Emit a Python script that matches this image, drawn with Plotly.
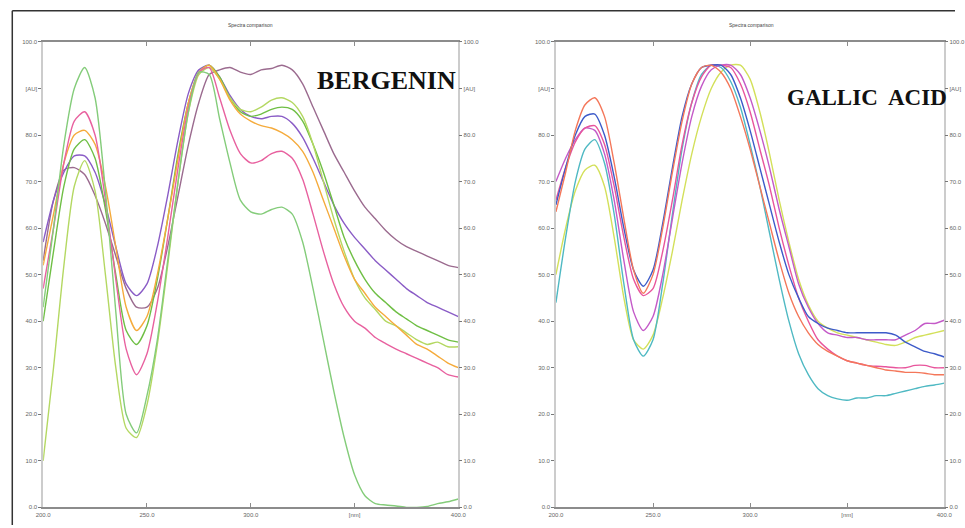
import plotly.graph_objects as go

# ---------------- data ----------------
WAVELENGTH = list(range(200, 401, 5))

X_TICKS = [200, 250, 300, 350, 400]
X_TICK_TEXT = ["200.0", "250.0", "300.0", "[nm]", "400.0"]
Y_TICKS = [0, 10, 20, 30, 40, 50, 60, 70, 80, 90, 100]
Y_TICK_TEXT = ["0.0", "10.0", "20.0", "30.0", "40.0", "50.0", "60.0", "70.0", "80.0", "[AU]", "100.0"]

# Bergenin panel
BERG_GREEN = [43, 60, 78, 90, 94.5, 88, 68, 42, 20, 16, 24, 36, 53, 70, 85, 93.5, 93, 83.5, 74, 66, 63.5,
              63, 64, 64.5, 63, 57, 47, 36, 25, 15, 7, 2.5, 0.8, 0.5, 0.3, 0, 0, 0.2, 0.8, 1.2, 1.8]
BERG_PINK = [47, 60, 74, 83, 85, 80, 66, 49, 34, 28.5, 33, 44, 58, 73, 86, 93.5, 94.5, 88, 81, 76, 74,
             74.5, 76, 76.5, 75, 70.5, 63, 55, 48, 43, 40, 38.5, 36.5, 35.2, 34, 33, 32, 31, 30, 28.5, 28]
BERG_ORANGE = [52, 63, 74, 80, 81, 78, 69, 56, 43, 38, 41, 50, 62, 75, 87, 93.5, 95, 92, 87.5, 84.5, 83,
               82, 81.5, 80.5, 79, 76.5, 72, 66, 60, 54, 49, 46, 43, 41, 39, 37, 35, 34, 32.5, 31, 30]
BERG_LIME = [40, 55, 69, 77, 79, 75, 64, 50, 38, 35, 39, 49, 62, 76, 87, 93.5, 95, 92.5, 88, 85, 84,
             84.5, 85.5, 86, 85.5, 83, 78, 72, 65, 58, 53, 49, 46, 44, 42, 40.5, 39, 38, 37, 36, 35.5]
BERG_YELLOWGREEN = [10, 30, 52, 69, 74.5, 68, 50, 30, 17, 15, 22, 35, 52, 70, 85, 93, 94.5, 92, 88, 85.5, 85,
                    86, 87.5, 88, 87, 84, 78, 70, 62, 55, 49, 45, 42.5, 40, 39, 37.5, 36, 35, 35.5, 34.5, 34.5]
BERG_PURPLE = [57, 66, 72, 75.5, 75.5, 72, 65, 56, 48, 45.5, 48, 56, 67, 79, 89, 94, 95, 92.5, 88.5, 85.5, 84,
               83.5, 84, 84, 82.5, 79.5, 75, 70, 65, 61, 58, 55.5, 53, 51, 49, 47, 45.5, 44, 43, 42, 41]
BERG_MAUVE = [53, 66, 72.5, 73, 71.5, 67, 61, 54, 47, 43, 43, 47, 56, 67, 78, 87, 93, 94, 94.5, 93.5, 93,
              94, 94.3, 95, 94, 91, 86, 81, 76, 72, 68, 64.5, 62, 59.5, 57.5, 56, 55, 54, 53, 52, 51.5]

# Gallic acid panel
GALL_SALMON = [63.5, 72, 81, 86.5, 88, 84, 74, 62, 51, 46, 50, 60, 72, 83, 91, 94.5, 95, 93.5, 90, 84, 77,
               69, 61, 53, 46, 41, 37.5, 35, 33.5, 32.5, 31.5, 31, 30.5, 30, 29.5, 29.3, 29, 29, 28.8, 28.5, 28.5]
GALL_BLUE = [65, 73, 80, 84, 84.5, 80, 71, 60, 51, 47.5, 51, 61, 73, 84, 91, 94.5, 95, 95, 93, 88, 81,
             73, 65, 57, 50, 45, 41, 39.5, 38.5, 38, 37.5, 37.5, 37.5, 37.5, 37.5, 37, 35.5, 34.5, 33.5, 33, 32.3]
GALL_PINK = [66, 73, 78.5, 81.5, 82, 78, 69, 58, 49, 45.5, 47, 55, 66, 78, 87, 92.5, 95, 95, 94.5, 91, 85,
             77, 69, 60, 52, 45, 40, 36, 34, 32.5, 31.5, 31, 30.5, 30.3, 30.2, 30, 30, 30.5, 30.5, 30, 30]
GALL_MAGENTA = [70, 75, 79, 81.5, 81, 76, 66, 53, 42, 38, 41, 50, 62, 74, 84, 90.5, 94, 95, 95, 93, 88,
                81, 73, 64, 56, 48, 43, 39.5, 37.5, 37, 36.5, 36.5, 36, 36, 36, 36, 37, 38, 39.5, 39.5, 40.2]
GALL_CYAN = [44, 58, 70, 77, 79, 74, 63, 48, 36, 32.5, 36, 48, 63, 77, 87, 93, 95, 94.5, 91.5, 86, 78,
             69, 59, 49, 40, 33, 28.5, 25.5, 24, 23.3, 23, 23.5, 23.5, 24, 24, 24.5, 25, 25.5, 26, 26.3, 26.7]
GALL_YELLOW = [50, 60, 68, 72.5, 73.5, 69, 58, 45, 36, 34, 37, 45, 55, 66, 76, 84, 90, 93.5, 95, 95, 92,
               85, 76, 66, 57, 49, 43.5, 40, 38.5, 37.5, 37, 36.5, 36, 35.5, 35, 34.8, 35.5, 36.5, 37, 37.5, 38]

LEFT_SERIES = [
    ("mauve", BERG_MAUVE, "#9b6b8f"),
    ("purple", BERG_PURPLE, "#8a5cc6"),
    ("lime", BERG_LIME, "#6fbf45"),
    ("yellowgreen", BERG_YELLOWGREEN, "#b4d862"),
    ("orange", BERG_ORANGE, "#f5ab3c"),
    ("pink", BERG_PINK, "#e8619f"),
    ("green", BERG_GREEN, "#84cc7a"),
]
RIGHT_SERIES = [
    ("yellow", GALL_YELLOW, "#d3e05a"),
    ("cyan", GALL_CYAN, "#4fb9c3"),
    ("magenta", GALL_MAGENTA, "#c45ac8"),
    ("pink", GALL_PINK, "#e8559c"),
    ("blue", GALL_BLUE, "#3d5bc9"),
    ("salmon", GALL_SALMON, "#f4775a"),
]

W, H = 965, 528
# the photographed page comes out slightly scaled/offset; map target pixels to layout pixels
S, OX, OY = 0.9856, 6.7, 3.2

def fx(px):
    return ((px - OX) / S) / W

def fy(py):
    return 1 - ((py - OY) / S) / H

fig = go.Figure()
for name, vals, color in LEFT_SERIES:
    fig.add_trace(go.Scatter(x=WAVELENGTH, y=vals, mode="lines", name=name,
                             line=dict(color=color, width=1.4, shape="spline", smoothing=0.7),
                             xaxis="x", yaxis="y", showlegend=False, hoverinfo="skip"))
for name, vals, color in RIGHT_SERIES:
    fig.add_trace(go.Scatter(x=WAVELENGTH, y=vals, mode="lines", name=name,
                             line=dict(color=color, width=1.4, shape="spline", smoothing=0.7),
                             xaxis="x2", yaxis="y2", showlegend=False, hoverinfo="skip"))

tick_font = dict(family="Liberation Sans", size=6, color="#666666")

def xax(domain, anchor):
    return dict(domain=domain, anchor=anchor, range=[200, 400], tickmode="array",
                tickvals=X_TICKS, ticktext=X_TICK_TEXT, showline=True, linecolor="#8c8c8c",
                linewidth=2, mirror="ticks", ticks="inside", ticklen=4, tickcolor="#8c8c8c",
                showgrid=False, zeroline=False, tickfont=tick_font, fixedrange=True)

def yax(anchor, side="left", overlaying=None, showline=True):
    d = dict(domain=[fy(506), fy(42)], anchor=anchor, range=[0, 100], tickmode="array",
             tickvals=Y_TICKS, ticktext=Y_TICK_TEXT, showline=showline, linecolor="#cccccc",
             linewidth=1.5, mirror=showline, ticks="outside", ticklen=3, tickcolor="#777777",
             showgrid=False, zeroline=False, tickfont=tick_font, side=side, fixedrange=True)
    if overlaying:
        d["overlaying"] = overlaying
    return d

fig.update_layout(
    width=W, height=H, autosize=False,
    margin=dict(l=0, r=0, t=0, b=0),
    paper_bgcolor="white", plot_bgcolor="white",
    xaxis=xax([fx(42), fx(459)], "y"),
    yaxis=yax("x"),
    yaxis3=yax("x", side="right", overlaying="y", showline=False),
    xaxis2=xax([fx(557), min(1.0, fx(947))], "y2"),
    yaxis2=yax("x2"),
    yaxis4=yax("x2", side="right", overlaying="y2", showline=False),
)

# invisible anchors so the right-hand duplicate axes render their ticks
fig.add_trace(go.Scatter(x=[200], y=[0], mode="markers", marker=dict(opacity=0),
                         xaxis="x", yaxis="y3", showlegend=False, hoverinfo="skip"))
fig.add_trace(go.Scatter(x=[200], y=[0], mode="markers", marker=dict(opacity=0),
                         xaxis="x2", yaxis="y4", showlegend=False, hoverinfo="skip"))

annotations = [
    dict(text="Spectra comparison", x=fx(250), y=fy(25), xref="paper", yref="paper",
         xanchor="center", yanchor="middle",
         showarrow=False, font=dict(family="Liberation Sans", size=5, color="#444444")),
    dict(text="Spectra comparison", x=fx(753), y=fy(25), xref="paper", yref="paper",
         xanchor="center", yanchor="middle",
         showarrow=False, font=dict(family="Liberation Sans", size=5, color="#444444")),
    dict(text="<b>BERGENIN</b>", x=fx(387), y=fy(80), xref="paper", yref="paper",
         xanchor="center", yanchor="middle",
         showarrow=False, font=dict(family="Liberation Serif", size=26, color="#111111")),
    dict(text="<b>GALLIC  ACID</b>", x=fx(869), y=fy(97), xref="paper", yref="paper",
         xanchor="center", yanchor="middle",
         showarrow=False, font=dict(family="Liberation Serif", size=23, color="#111111")),
]
fig.update_layout(annotations=annotations)

fig.update_layout(shapes=[
    dict(type="line", xref="paper", yref="paper", x0=fx(11), x1=1, y0=fy(11), y1=fy(11),
         line=dict(color="#333333", width=1.5)),
    dict(type="line", xref="paper", yref="paper", x0=fx(11), x1=fx(11), y0=0, y1=fy(11),
         line=dict(color="#333333", width=1.5)),
])

fig.write_html(
    "out.html",
    config={"displayModeBar": False},
    post_script="document.body.style.margin='0';document.body.style.overflow='hidden';",
)
